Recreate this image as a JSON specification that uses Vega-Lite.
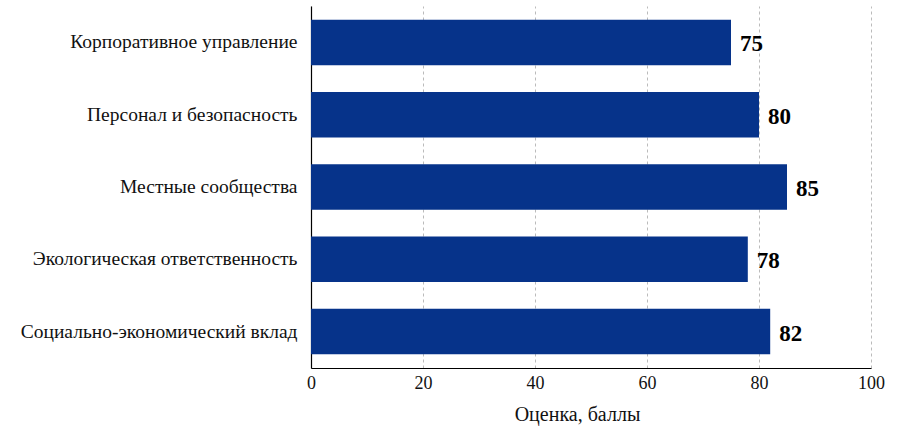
{
  "$schema": "https://vega.github.io/schema/vega-lite/v6.json",
  "autosize": "none",
  "padding": {"left": 311, "top": 6, "right": 37, "bottom": 70},
  "width": 560,
  "height": 362,
  "background": "white",
  "data": {
    "values": [
      {"category": "Корпоративное управление", "score": 75},
      {"category": "Персонал и безопасность", "score": 80},
      {"category": "Местные сообщества", "score": 85},
      {"category": "Экологическая ответственность", "score": 78},
      {"category": "Социально-экономический вклад", "score": 82}
    ]
  },
  "encoding": {
    "y": {
      "field": "category",
      "type": "nominal",
      "sort": null,
      "title": null,
      "scale": {"paddingInner": 0.37, "paddingOuter": 0.19},
      "axis": {
        "labelFontSize": 19.5,
        "labelColor": "#111",
        "labelPadding": 14,
        "ticks": false,
        "domainColor": "#000",
        "domainWidth": 1.2,
        "labelLimit": 400
      }
    },
    "x": {
      "field": "score",
      "type": "quantitative",
      "title": "Оценка, баллы",
      "scale": {"domain": [0, 100], "nice": false},
      "axis": {
        "values": [0, 20, 40, 60, 80, 100],
        "labelFontSize": 18,
        "labelFlush": false,
        "labelColor": "#111",
        "labelPadding": 6,
        "ticks": false,
        "domainColor": "#000",
        "domainWidth": 1.2,
        "grid": true,
        "gridDash": [3, 3],
        "gridColor": "#bbb",
        "titleFontSize": 20,
        "titleFontWeight": "normal",
        "titleColor": "#111",
        "titlePadding": 12,
        "titleX": 266
      }
    }
  },
  "layer": [
    {"mark": {"type": "bar", "color": "#06338a"}},
    {
      "mark": {
        "type": "text",
        "align": "left",
        "baseline": "middle",
        "dx": 9,
        "dy": 2,
        "fontSize": 23,
        "fontWeight": "bold",
        "color": "#000"
      },
      "encoding": {"text": {"field": "score", "type": "quantitative"}}
    }
  ],
  "config": {
    "view": {"stroke": null},
    "font": "Liberation Serif",
    "axis": {"labelFont": "Liberation Serif", "titleFont": "Liberation Serif"},
    "text": {"font": "Liberation Serif"}
  }
}
